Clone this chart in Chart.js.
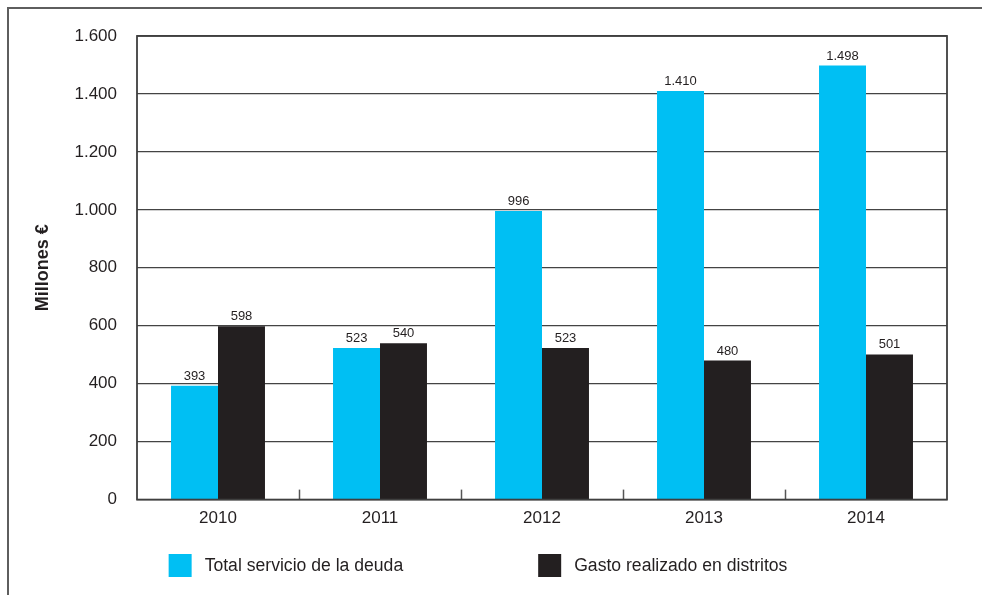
<!DOCTYPE html>
<html><head><meta charset="utf-8">
<script src="https://cdn.jsdelivr.net/npm/chart.js@4/dist/chart.umd.min.js"></script>
<style>
html,body{margin:0;padding:0;background:#fff;overflow:hidden;}
#frame{position:absolute;left:7px;top:7px;width:975px;height:588px;border-top:2px solid #5e5e5e;border-left:2px solid #5e5e5e;}
#wrap{position:relative;width:973px;height:586px;}
</style></head><body>
<div id="frame"><div id="wrap"><canvas id="c"></canvas></div></div>
<script>
const categories = ['2010', '2011', '2012', '2013', '2014'];
const deudaValues = [393, 523, 996, 1410, 1498];
const distritosValues = [598, 540, 523, 480, 501];
const seriesNames = ['Total servicio de la deuda', 'Gasto realizado en distritos'];
const yTicks = [0, 200, 400, 600, 800, 1000, 1200, 1400, 1600];

const TEXT = '#231F20';
const FONT = "'Liberation Sans', Arial, sans-serif";
const fmt = v => String(v).replace(/\B(?=(\d{3})+(?!\d))/g, '.');

const decorPlugin = {
  id: 'decor',
  afterDatasetsDraw(chart) {
    const ctx = chart.ctx;
    const a = chart.chartArea;
    const xs = chart.scales.x;
    ctx.save();
    ctx.font = "13px " + FONT;
    ctx.fillStyle = TEXT;
    ctx.textAlign = 'center';
    ctx.textBaseline = 'alphabetic';
    chart.data.datasets.forEach((ds, di) => {
      chart.getDatasetMeta(di).data.forEach((bar, i) => {
        ctx.fillText(fmt(ds.data[i]), bar.x, bar.y - 6);
      });
    });
    ctx.strokeStyle = '#555';
    ctx.lineWidth = 1.5;
    for (let i = 1; i < categories.length; i++) {
      const x = Math.round((xs.getPixelForValue(i - 1) + xs.getPixelForValue(i)) / 2) + 0.5;
      ctx.beginPath();
      ctx.moveTo(x, a.bottom - 10);
      ctx.lineTo(x, a.bottom);
      ctx.stroke();
    }
    ctx.strokeStyle = '#3f3f3f';
    ctx.lineWidth = 1.8;
    ctx.strokeRect(a.left, a.top, a.right - a.left, a.bottom - a.top);
    ctx.restore();
  },
  afterDraw(chart) {
    const ctx = chart.ctx;
    ctx.save();
    ctx.font = "17.6px " + FONT;
    const box = 23, gapText = 13, gapItem = 135;
    const widths = chart.data.datasets.map(ds => box + gapText + ctx.measureText(ds.label).width);
    const total = widths.reduce((s, w) => s + w, 0) + gapItem * (widths.length - 1);
    const center = (chart.width - 35) / 2;
    let x = center - total / 2;
    const top = chart.height - 41;
    chart.data.datasets.forEach((ds, i) => {
      ctx.fillStyle = ds.backgroundColor;
      ctx.fillRect(x, top, box, box);
      ctx.fillStyle = TEXT;
      ctx.textAlign = 'left';
      ctx.textBaseline = 'middle';
      ctx.fillText(ds.label, x + box + gapText, top + box / 2 + 1);
      x += widths[i] + gapItem;
    });
    ctx.restore();
  }
};

new Chart(document.getElementById('c'), {
  type: 'bar',
  data: {
    labels: categories,
    datasets: [
      { label: seriesNames[0], data: deudaValues, backgroundColor: '#00BFF3' },
      { label: seriesNames[1], data: distritosValues, backgroundColor: '#231F20' }
    ]
  },
  options: {
    responsive: true,
    maintainAspectRatio: false,
    animation: false,
    devicePixelRatio: 1,
    layout: { padding: { top: 27, right: 35, bottom: 65, left: 0 } },
    datasets: { bar: { categoryPercentage: 0.58, barPercentage: 1.0 } },
    plugins: { legend: { display: false }, tooltip: { enabled: false } },
    scales: {
      x: {
        grid: { display: false },
        border: { display: false },
        ticks: { color: TEXT, font: { family: FONT, size: 17 }, padding: 1 }
      },
      y: {
        min: 0, max: 1600,
        afterFit(scale) { scale.width = 128; scale.paddingTop = 10; scale.paddingBottom = 10; },
        afterBuildTicks(scale) { scale.ticks = yTicks.map(v => ({ value: v })); },
        grid: { color: '#444', lineWidth: 1.3, drawTicks: false },
        border: { display: false },
        ticks: { color: TEXT, font: { family: FONT, size: 17 }, padding: 20, callback: v => fmt(v) },
        title: { display: true, text: 'Millones €', color: TEXT, font: { family: FONT, size: 18, weight: 'bold' }, padding: { top: 23, bottom: 0 } }
      }
    }
  },
  plugins: [decorPlugin]
});
</script>
</body></html>
